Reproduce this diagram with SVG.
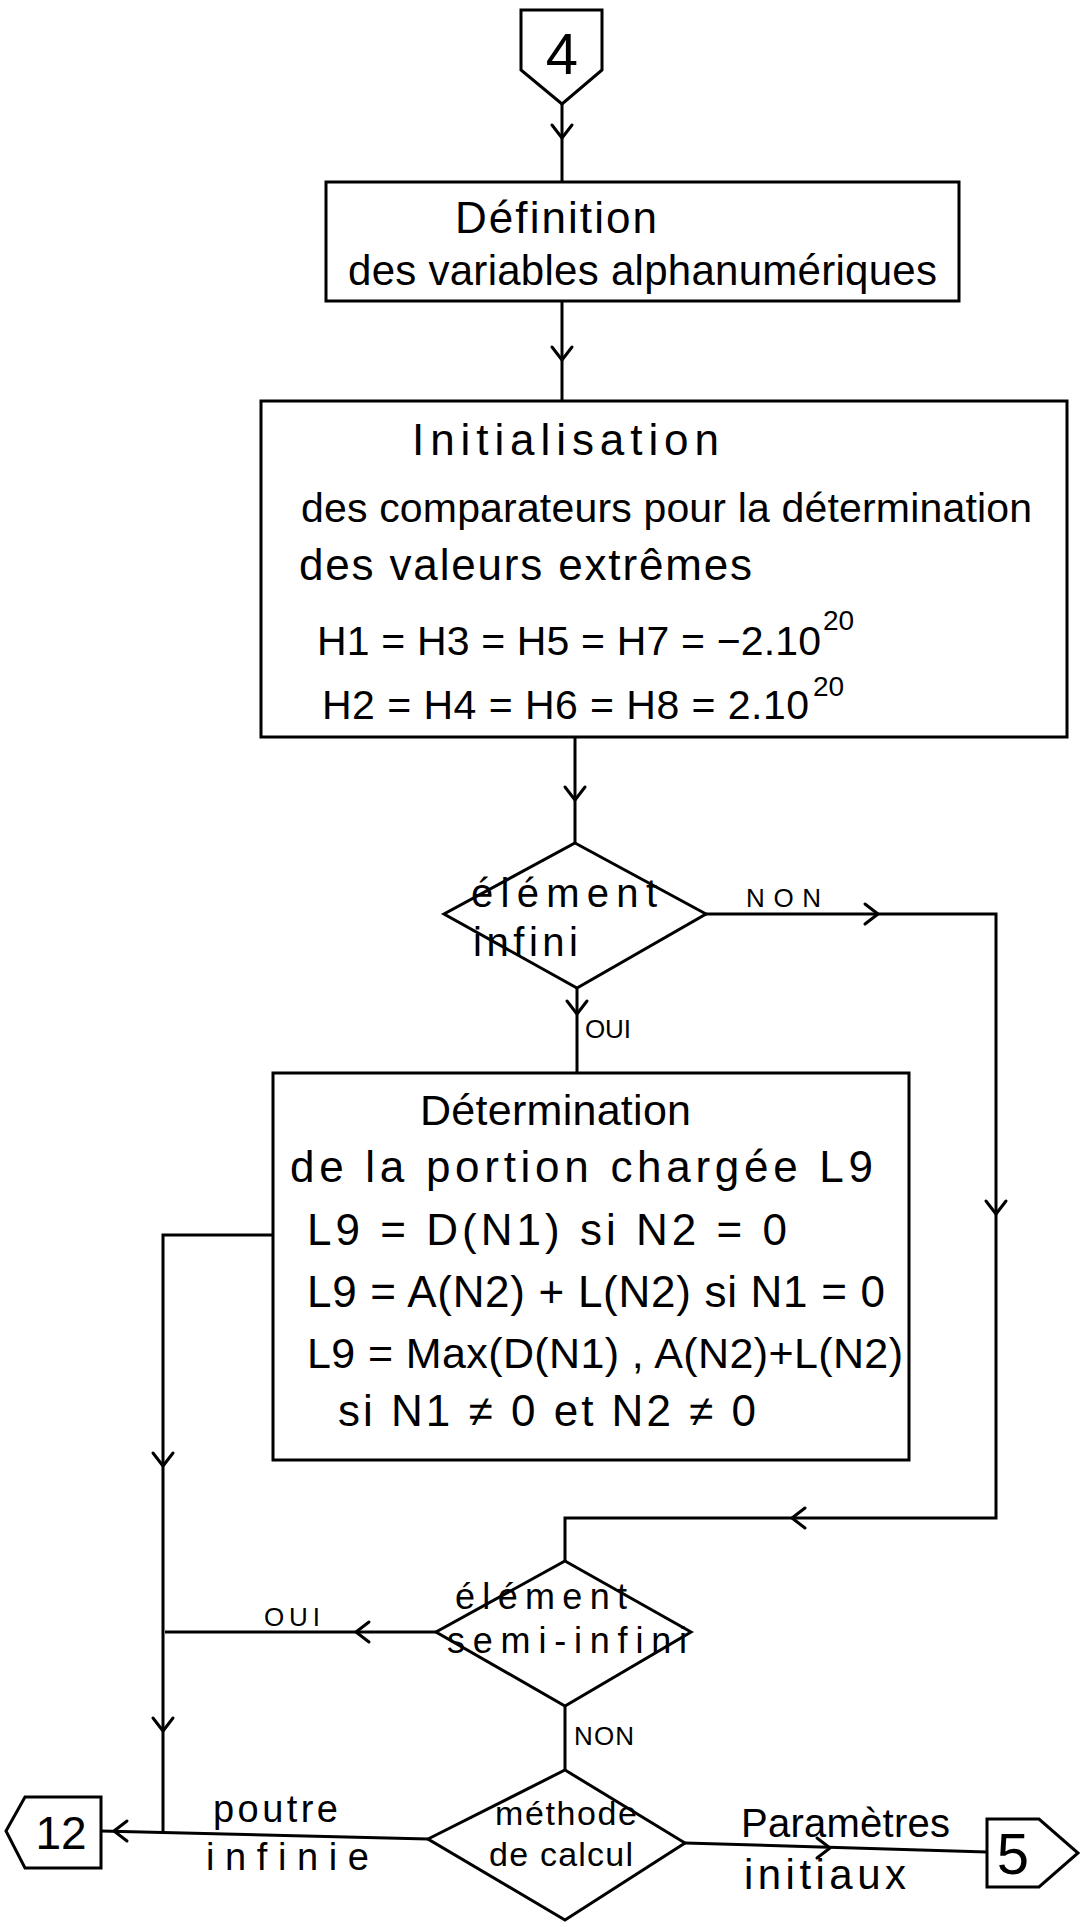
<svg xmlns="http://www.w3.org/2000/svg" width="1084" height="1927" viewBox="0 0 1084 1927">
<style>
.sh{fill:#fff;stroke:#000;stroke-width:3;stroke-linejoin:miter}
.ln{fill:none;stroke:#000;stroke-width:3}
.ch{fill:none;stroke:#000;stroke-width:3;stroke-linecap:round;stroke-linejoin:round}
text{font-family:"Liberation Sans","DejaVu Sans",sans-serif;fill:#000}
.lb{font-size:26px}
.sup{font-size:28px}
</style>
<defs>
<path id="chev" class="ch" d="M-10,-13 L0,0 L10,-13"/>
</defs>
<rect width="1084" height="1927" fill="#fff"/>

<g id="connectors">
<path class="ln" d="M562,104 V182"/>
<use href="#chev" transform="translate(562,138)"/>
<path class="ln" d="M562,301 V401"/>
<use href="#chev" transform="translate(562,360)"/>
<path class="ln" d="M575,737 V843"/>
<use href="#chev" transform="translate(575,800)"/>
<path class="ln" d="M706,914 H996 V1518 H565 V1561"/>
<use href="#chev" transform="translate(878,914) rotate(-90)"/>
<use href="#chev" transform="translate(996,1214)"/>
<use href="#chev" transform="translate(792,1518) rotate(90)"/>
<path class="ln" d="M577,988 V1073"/>
<use href="#chev" transform="translate(577,1014)"/>
<path class="ln" d="M273,1235 H163 V1831"/>
<use href="#chev" transform="translate(163,1466)"/>
<use href="#chev" transform="translate(163,1731)"/>
<path class="ln" d="M436,1632 H165"/>
<use href="#chev" transform="translate(356,1632) rotate(90)"/>
<path class="ln" d="M565,1706 V1770"/>
<path class="ln" d="M428,1839 L101,1831"/>
<use href="#chev" transform="translate(114,1831) rotate(90)"/>
<path class="ln" d="M685,1843 L987,1852"/>
<use href="#chev" transform="translate(830,1848) rotate(-90)"/>
<text class="lb" x="746" y="907" textLength="75" lengthAdjust="spacing">NON</text>
<text class="lb" x="585" y="1038" textLength="46" lengthAdjust="spacing">OUI</text>
<text class="lb" x="264" y="1626" textLength="56" lengthAdjust="spacing">OUI</text>
<text class="lb" x="574" y="1745" textLength="60" lengthAdjust="spacing">NON</text>
<text font-size="38" x="213" y="1822" textLength="125" lengthAdjust="spacing">poutre</text>
<text font-size="38" x="206" y="1870" textLength="163" lengthAdjust="spacing">infinie</text>
<text font-size="40" x="741" y="1837" textLength="209" lengthAdjust="spacing">Paramètres</text>
<text font-size="42" x="744" y="1889" textLength="162" lengthAdjust="spacing">initiaux</text>
</g>

<g id="conn4">
<path class="sh" d="M521,10 H602 V70 L562,104 L521,70 Z"/>
<text x="562" y="74" font-size="58" text-anchor="middle">4</text>
</g>

<g id="definition">
<rect class="sh" x="326" y="182" width="633" height="119"/>
<text font-size="44" x="455" y="233" textLength="202" lengthAdjust="spacing">Définition</text>
<text font-size="42" x="348" y="285" textLength="589" lengthAdjust="spacing">des variables alphanumériques</text>
</g>

<g id="initialisation">
<rect class="sh" x="261" y="401" width="806" height="336"/>
<text font-size="44" x="412" y="455" textLength="307" lengthAdjust="spacing">Initialisation</text>
<text font-size="41" x="301" y="522" textLength="731" lengthAdjust="spacing">des comparateurs pour la détermination</text>
<text font-size="44" x="299" y="580" textLength="453" lengthAdjust="spacing">des valeurs extrêmes</text>
<text font-size="41" x="317" y="655" textLength="504" lengthAdjust="spacing">H1 = H3 = H5 = H7 = −2.10</text>
<text class="sup" x="823" y="630">20</text>
<text font-size="41" x="322" y="719" textLength="487" lengthAdjust="spacing">H2 = H4 = H6 = H8 = 2.10</text>
<text class="sup" x="813" y="696">20</text>
</g>

<g id="infini">
<path class="sh" d="M575,843 L706,914 L577,988 L444,914 Z"/>
<text font-size="40" x="471" y="907" textLength="186" lengthAdjust="spacing">élément</text>
<text font-size="40" x="473" y="956" textLength="105" lengthAdjust="spacing">infini</text>
</g>

<g id="determination">
<rect class="sh" x="273" y="1073" width="636" height="387"/>
<text font-size="43" x="420" y="1125" textLength="271" lengthAdjust="spacing">Détermination</text>
<text font-size="44" x="290" y="1182" textLength="583" lengthAdjust="spacing">de la portion chargée L9</text>
<text font-size="44" x="307" y="1245" textLength="480" lengthAdjust="spacing">L9 = D(N1)  si N2 = 0</text>
<text font-size="44" x="307" y="1307" textLength="578" lengthAdjust="spacing">L9 = A(N2) + L(N2) si N1 = 0</text>
<text font-size="43" x="307" y="1368" textLength="596" lengthAdjust="spacing">L9 = Max(D(N1) , A(N2)+L(N2)</text>
<text font-size="44" x="338" y="1426" textLength="418" lengthAdjust="spacing">si N1 ≠ 0 et N2 ≠ 0</text>
</g>

<g id="semi-infini">
<path class="sh" d="M565,1561 L691,1632 L565,1706 L436,1632 Z"/>
<text font-size="36" x="455" y="1609" textLength="172" lengthAdjust="spacing">élément</text>
<text font-size="36" x="447" y="1653" textLength="240" lengthAdjust="spacing">semi-infini</text>
</g>

<g id="methode">
<path class="sh" d="M565,1770 L685,1843 L565,1920 L428,1839 Z"/>
<text font-size="34" x="495" y="1825" textLength="142" lengthAdjust="spacing">méthode</text>
<text font-size="34" x="489" y="1866" textLength="144" lengthAdjust="spacing">de calcul</text>
</g>

<g id="conn12">
<path class="sh" d="M6,1831 L25,1797 H101 V1868 H25 Z"/>
<text x="61" y="1849" font-size="46" text-anchor="middle">12</text>
</g>

<g id="conn5">
<path class="sh" d="M987,1819 H1039 L1078,1853 L1039,1887 H987 Z"/>
<text x="1013" y="1874" font-size="58" text-anchor="middle">5</text>
</g>
</svg>
